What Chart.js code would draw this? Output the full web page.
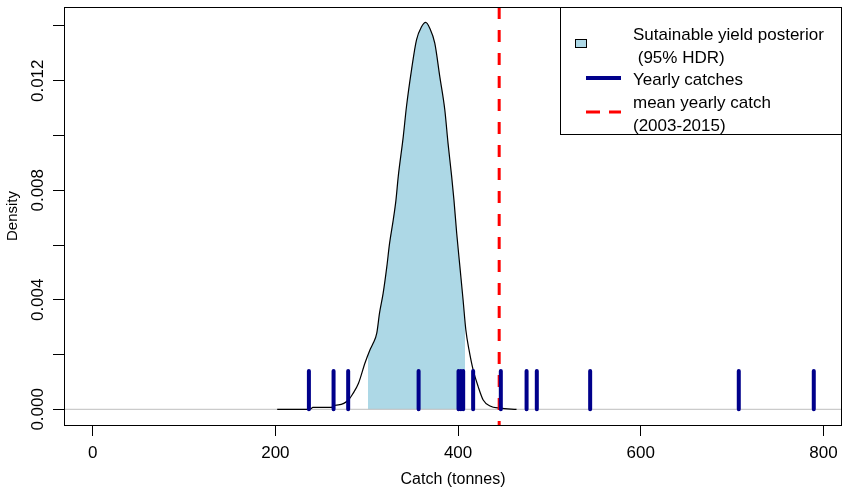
<!DOCTYPE html>
<html>
<head>
<meta charset="utf-8">
<script src="https://cdn.jsdelivr.net/npm/chart.js@4.4.1/dist/chart.umd.min.js"></script>
<style>
  html, body { margin: 0; padding: 0; background: #fff; }
</style>
</head>
<body>
<canvas id="c" width="843" height="489"></canvas>
<script>
// posterior density of the sustainable yield
const densX = [202, 238, 241, 262, 263, 269, 280, 285, 291, 298, 303.5, 307, 311, 314, 318, 322, 325, 329, 332, 334.5,
  340, 343.5, 349, 354.5, 360, 364.5, 369, 374.5, 380, 385.5, 389, 393, 395.5, 398.5, 402, 405.5, 408.5, 412, 416.5,
  422, 427.5, 435, 446, 464];
const densY = [0, 0, 0.00007, 0.00007, 0.00013, 0.00016, 0.00034, 0.00058, 0.00095, 0.00168, 0.00217, 0.00241, 0.00278,
  0.00351, 0.00424, 0.00521, 0.00606, 0.00691, 0.00764, 0.0085, 0.00996, 0.01105, 0.01239, 0.01349, 0.01397, 0.01413,
  0.01392, 0.01337, 0.01215, 0.01093, 0.00972, 0.0085, 0.00764, 0.00643, 0.00521, 0.00399, 0.0029, 0.00217, 0.00144,
  0.00083, 0.00034, 0.00012, 0.00004, 0];
// 95% HDR bounds
const hdrLo = 301;
const hdrHi = 408;
// yearly catches (tonnes) and their mean
const catches = [236.7, 263.7, 279.7, 356.8, 400.5, 403.1, 405.6, 416.5, 446.8, 475.0, 486.2, 544.6, 707.3, 789.4];
const catchTick = 0.0014;
const meanCatch = 445;

const xTickValues = [0, 200, 400, 600, 800];
const xTickLabels = ['0', '200', '400', '600', '800'];
const yTickValues = [0, 0.002, 0.004, 0.006, 0.008, 0.010, 0.012, 0.014];
const yTickLabels = ['0.000', '', '0.004', '', '0.008', '', '0.012', ''];
const legendLabels = [['Sutainable yield posterior', ' (95% HDR)'], ['Yearly catches'], ['mean yearly catch', '(2003-2015)']];

// axis limits (R style, 4% extension)
const xMin = -31.4, xMax = 820.3;
const yMin = -0.000573, yMax = 0.014693;

const FONT = "'Liberation Sans', Arial, sans-serif";
Chart.defaults.font.family = FONT;
Chart.defaults.color = '#000';

const densPts = densX.map((x, i) => ({ x: x, y: densY[i] }));
const catchPts = [];
catches.forEach(c => {
  catchPts.push({ x: c, y: 0 }, { x: c, y: catchTick }, { x: c, y: null });
});

// light blue only between the HDR bounds
function hdrFill(context) {
  const chart = context.chart;
  const area = chart.chartArea;
  const xs = chart.scales && chart.scales.x;
  if (!area || !xs) return 'rgba(173,216,230,0)';
  const w = area.right - area.left;
  const a = (xs.getPixelForValue(hdrLo) - area.left) / w;
  const b = (xs.getPixelForValue(hdrHi) - area.left) / w;
  const g = chart.ctx.createLinearGradient(area.left, 0, area.right, 0);
  const clear = 'rgba(173,216,230,0)';
  g.addColorStop(0, clear);
  g.addColorStop(a, clear);
  g.addColorStop(a, '#ADD8E6');
  g.addColorStop(b, '#ADD8E6');
  g.addColorStop(b, clear);
  g.addColorStop(1, clear);
  return g;
}

const rFrame = {
  id: 'rFrame',
  afterDraw(chart) {
    const ctx = chart.ctx;
    const a = chart.chartArea;
    const y = chart.scales.y;
    ctx.save();
    ctx.strokeStyle = '#000';
    ctx.lineWidth = 1;
    ctx.strokeRect(Math.round(a.left) + 0.5, Math.round(a.top) + 0.5,
      Math.round(a.right - a.left) - 1, Math.round(a.bottom - a.top));

    // rotated y tick labels
    ctx.font = '17px ' + FONT;
    ctx.fillStyle = '#000';
    ctx.textAlign = 'center';
    ctx.textBaseline = 'middle';
    yTickValues.forEach((v, i) => {
      if (!yTickLabels[i]) return;
      ctx.save();
      ctx.translate(y.right - 26, y.getPixelForValue(v));
      ctx.rotate(-Math.PI / 2);
      ctx.fillText(yTickLabels[i], 0, 0);
      ctx.restore();
    });

    // legend, top right
    const W = 282, H = 127;
    const L = Math.round(a.right) - W, T = Math.round(a.top);
    ctx.fillStyle = '#fff';
    ctx.fillRect(L, T, W, H);
    ctx.strokeRect(L + 0.5, T + 0.5, W - 1, H);

    ctx.fillStyle = '#ADD8E6';
    ctx.fillRect(L + 15.5, T + 32.5, 11, 8);
    ctx.strokeRect(L + 15.5, T + 32.5, 11, 8);

    ctx.strokeStyle = '#00008B';
    ctx.lineWidth = 4;
    ctx.beginPath();
    ctx.moveTo(L + 26, T + 71);
    ctx.lineTo(L + 61, T + 71);
    ctx.stroke();

    ctx.strokeStyle = '#FF0000';
    ctx.lineWidth = 3;
    ctx.setLineDash([14, 9]);
    ctx.beginPath();
    ctx.moveTo(L + 26, T + 105);
    ctx.lineTo(L + 61, T + 105);
    ctx.stroke();
    ctx.setLineDash([]);

    ctx.fillStyle = '#000';
    ctx.textAlign = 'left';
    ctx.textBaseline = 'alphabetic';
    const baselines = [[33, 56], [78], [101, 124]];
    legendLabels.forEach((lines, i) => {
      lines.forEach((t, j) => ctx.fillText(t, L + 73, T + baselines[i][j]));
    });
    ctx.restore();
  }
};

new Chart(document.getElementById('c'), {
  type: 'line',
  data: {
    datasets: [
      {
        label: 'Yearly catches',
        data: catchPts,
        borderColor: '#00008B',
        borderWidth: 4,
        borderCapStyle: 'round',
        pointRadius: 0,
        spanGaps: false,
        order: 0
      },
      {
        label: 'mean yearly catch',
        data: [{ x: meanCatch, y: yMax }, { x: meanCatch, y: yMin }],
        borderColor: '#FF0000',
        borderWidth: 3,
        borderDash: [12, 11],
        pointRadius: 0,
        order: 1
      },
      {
        label: 'density',
        data: densPts,
        borderColor: '#000',
        borderWidth: 1.2,
        pointRadius: 0,
        cubicInterpolationMode: 'monotone',
        order: 2
      },
      {
        label: 'zero',
        data: [{ x: xMin, y: 0 }, { x: xMax, y: 0 }],
        borderColor: '#BEBEBE',
        borderWidth: 1,
        pointRadius: 0,
        order: 3
      },
      {
        label: 'HDR',
        data: densPts,
        borderWidth: 0,
        borderColor: 'rgba(0,0,0,0)',
        backgroundColor: hdrFill,
        fill: 'origin',
        pointRadius: 0,
        cubicInterpolationMode: 'monotone',
        order: 4
      }
    ]
  },
  options: {
    responsive: false,
    animation: false,
    layout: { padding: { left: 0, right: 1, top: 7, bottom: 0 } },
    plugins: { legend: { display: false }, tooltip: { enabled: false } },
    scales: {
      x: {
        type: 'linear',
        min: xMin,
        max: xMax,
        afterBuildTicks: s => { s.ticks = xTickValues.map(v => ({ value: v })); },
        afterFit: s => { s.height = 64; s.paddingLeft = 0; s.paddingRight = 0; },
        grid: { drawOnChartArea: false, drawTicks: true, tickLength: 11, color: '#000' },
        border: { display: false },
        ticks: {
          font: { size: 17 },
          padding: 7,
          maxRotation: 0,
          autoSkip: false,
          callback: (v, i) => xTickLabels[i]
        },
        title: { display: true, text: 'Catch (tonnes)', font: { size: 16 }, padding: { top: 2, bottom: 0 } }
      },
      y: {
        type: 'linear',
        min: yMin,
        max: yMax,
        afterBuildTicks: s => { s.ticks = yTickValues.map(v => ({ value: v })); },
        afterFit: s => { s.width = 64; s.paddingTop = 0; s.paddingBottom = 0; },
        grid: { drawOnChartArea: false, drawTicks: true, tickLength: 11, color: '#000' },
        border: { display: false },
        ticks: { display: false },
        title: { display: true, text: 'Density', font: { size: 15 }, padding: { top: 4, bottom: 0 } }
      }
    }
  },
  plugins: [rFrame]
});
</script>
</body>
</html>
